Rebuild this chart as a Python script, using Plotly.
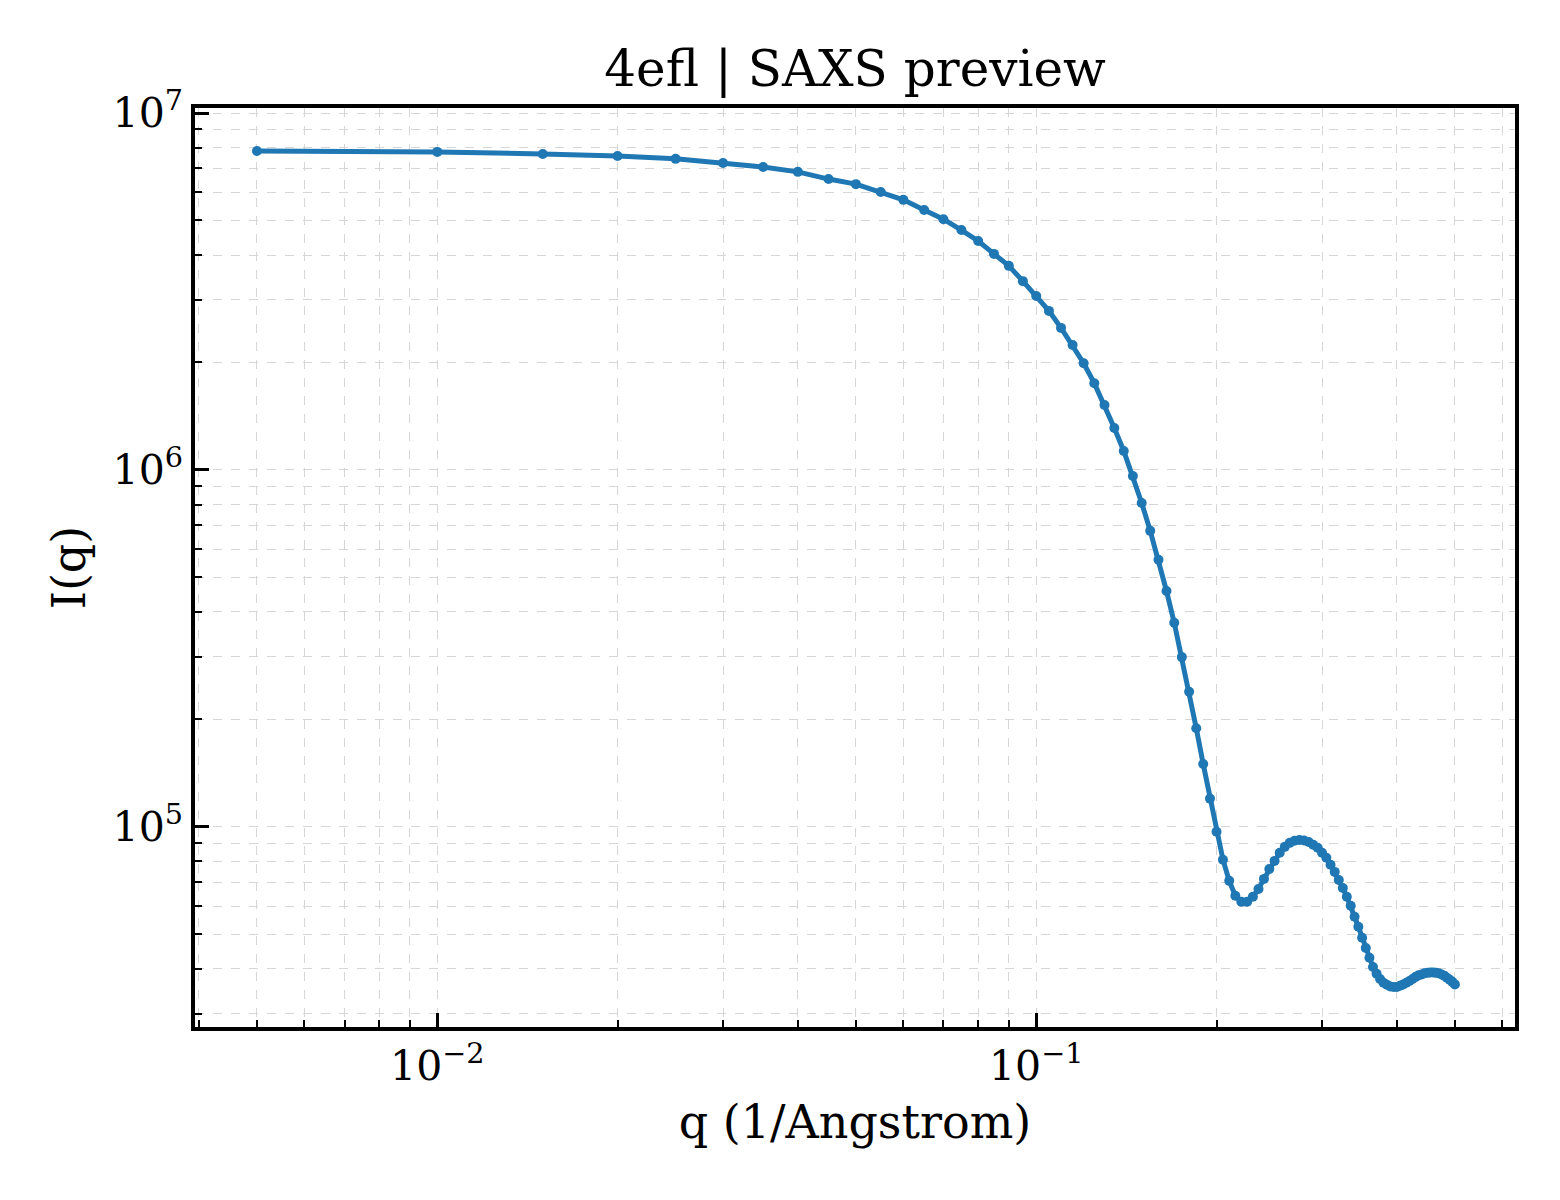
import numpy as np
import plotly.graph_objects as go

# scattering vector (1/Angstrom)
q = [round(0.005 * (i + 1), 3) for i in range(100)]

# intensity
intensity = [
    7.83e6, 7.78e6, 7.68e6, 7.58e6, 7.44e6, 7.24e6, 7.06e6, 6.84e6, 6.53e6, 6.32e6,
    6.01e6, 5.71e6, 5.35e6, 5.04e6, 4.70e6, 4.38e6, 4.03e6, 3.73e6, 3.38e6, 3.07e6,
    2.79e6, 2.50e6, 2.24e6, 1.99e6, 1.75e6, 1.52e6, 1.31e6, 1.13e6, 9.62e5, 8.08e5,
    6.75e5, 5.60e5, 4.58e5, 3.73e5, 2.99e5, 2.39e5, 1.89e5, 1.50e5, 1.20e5, 9.69e4,
    8.09e4, 7.06e4, 6.41e4, 6.17e4, 6.17e4, 6.37e4, 6.70e4, 7.15e4, 7.62e4, 8.03e4,
    8.46e4, 8.79e4, 9.02e4, 9.14e4, 9.19e4, 9.16e4, 9.07e4, 8.91e4, 8.74e4, 8.46e4,
    8.19e4, 7.83e4, 7.48e4, 7.10e4, 6.74e4, 6.37e4, 6.01e4, 5.60e4, 5.25e4, 4.89e4,
    4.58e4, 4.30e4, 4.05e4, 3.88e4, 3.75e4, 3.66e4, 3.61e4, 3.57e4, 3.56e4, 3.56e4,
    3.59e4, 3.62e4, 3.66e4, 3.70e4, 3.75e4, 3.80e4, 3.84e4, 3.86e4, 3.89e4, 3.90e4,
    3.91e4, 3.91e4, 3.90e4, 3.89e4, 3.86e4, 3.83e4, 3.78e4, 3.73e4, 3.68e4, 3.62e4,
]

x_tickvals = [0.01, 0.1]
x_ticktext = ["10<sup>\u22122</sup>", "10<sup>\u22121</sup>"]
y_tickvals = [1e5, 1e6, 1e7]
y_ticktext = ["10<sup>5</sup>", "10<sup>6</sup>", "10<sup>7</sup>"]

# minor tick positions (2..9 within each decade)
x_minor = [m * 10.0 ** e for e in (-3, -2, -1) for m in range(2, 10)]
y_minor = [m * 10.0 ** e for e in (4, 5, 6) for m in range(2, 10)]

font = "DejaVu Serif"
grid = "#d6d6d6"

fig = go.Figure(
    go.Scatter(
        x=q,
        y=intensity,
        mode="lines+markers",
        line=dict(color="#1f77b4", width=5),
        marker=dict(color="#1f77b4", size=10),
    )
)

axis_common = dict(
    type="log",
    showline=True,
    linecolor="black",
    linewidth=3.5,
    mirror=True,
    ticks="inside",
    ticklen=14,
    tickwidth=3,
    tickcolor="black",
    showgrid=True,
    gridcolor=grid,
    gridwidth=1.2,
    griddash="dash",
    zeroline=False,
    tickfont=dict(family=font, size=41, color="black"),
)

minor_common = dict(
    tickmode="array",
    ticks="inside",
    ticklen=7,
    tickwidth=2,
    tickcolor="black",
    showgrid=True,
    gridcolor=grid,
    gridwidth=1.2,
    griddash="dash",
)

fig.update_layout(
    width=1560,
    height=1200,
    margin=dict(l=187, r=53, t=100, b=181),
    paper_bgcolor="white",
    plot_bgcolor="white",
    showlegend=False,
    title=dict(
        text="4efl | SAXS preview",
        x=0.543,
        xanchor="center",
        y=0.95,
        yanchor="middle",
        font=dict(family=font, size=50, color="black"),
    ),
    xaxis=dict(
        axis_common,
        range=[np.log10(0.00394), np.log10(0.63)],
        tickvals=x_tickvals,
        ticktext=x_ticktext,
        minor=dict(minor_common, tickvals=x_minor),
        title=dict(text="q (1/Angstrom)", font=dict(family=font, size=46, color="black"), standoff=18),
    ),
    yaxis=dict(
        axis_common,
        range=[np.log10(27500), 7.014],
        tickvals=y_tickvals,
        ticktext=y_ticktext,
        minor=dict(minor_common, tickvals=y_minor),
        title=dict(text="I(q)", font=dict(family=font, size=46, color="black"), standoff=14),
    ),
)

fig.write_html("out.html")
